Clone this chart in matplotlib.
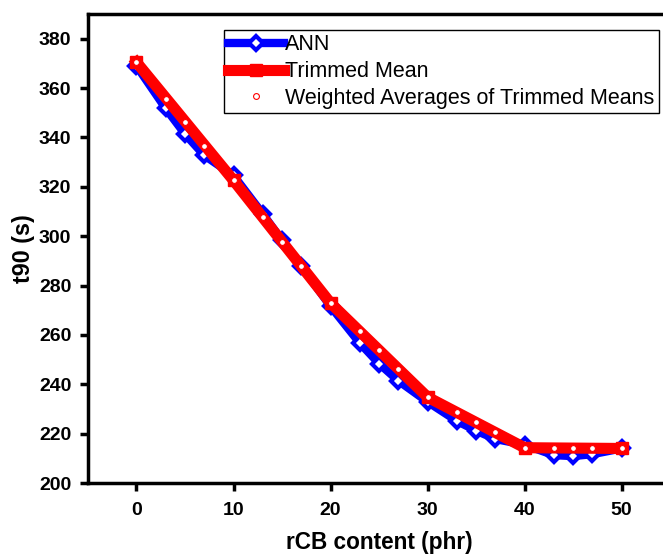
#!/usr/bin/env python3
"""t90 vs rCB content: ANN vs trimmed mean."""
import matplotlib
matplotlib.use("Agg")
import matplotlib.pyplot as plt

plt.rcParams["font.family"] = ["Liberation Sans", "DejaVu Sans"]

# ANN predictions
ann_x = [0, 3, 5, 7, 10, 13, 15, 17, 20, 23, 25, 27, 30, 33, 35, 37, 40, 43, 45, 47, 50]
ann_y = [369.0, 351.8, 341.4, 332.7, 324.6, 309.1, 298.3, 287.8, 271.6, 256.8, 248.4,
         241.4, 232.9, 225.2, 221.2, 217.8, 215.5, 211.3, 210.9, 211.7, 214.0]

# trimmed means at measured contents
tm_x = [0, 10, 20, 30, 40, 50]
tm_y = [370.5, 322.6, 272.9, 234.8, 214.3, 214.0]

# weighted averages of trimmed means
wa_x = [0, 3, 5, 7, 10, 13, 15, 17, 20, 23, 25, 27, 30, 33, 35, 37, 40, 43, 45, 47, 50]
wa_y = [370.5, 355.7, 346.4, 336.7, 322.6, 307.7, 297.8, 287.8, 272.9, 261.5, 253.8,
        246.1, 234.8, 228.6, 224.6, 220.5, 214.3, 214.3, 214.2, 214.1, 214.0]

fig = plt.figure(figsize=(6.63, 5.55), dpi=100)
ax = fig.add_axes([0.1327, 0.1297, 0.878, 0.845])

ax.plot(ann_x, ann_y, color="#0000ff", lw=6, marker="D", ms=7.5,
        mfc="white", mec="#0000ff", mew=3, label="ANN", zorder=2)
ax.plot(tm_x, tm_y, color="#ff0000", lw=8, marker="s", ms=8.5,
        mfc="#ff0000", mec="#ff0000", mew=1, label="Trimmed Mean", zorder=3)
ax.plot(wa_x, wa_y, ls="none", marker="o", ms=4.2, mfc="white",
        mec="#ff0000", mew=0.8, label="Weighted Averages of Trimmed Means", zorder=4)

ax.set_xlim(-5, 55)
ax.set_ylim(200, 390)
ax.set_xticks(range(0, 51, 10))
ax.set_yticks(range(200, 381, 20))

for s in ax.spines.values():
    s.set_linewidth(2.5)
ax.tick_params(direction="out", length=6, width=2.5, labelsize=14)
ax.tick_params(axis="x", pad=8)
ax.tick_params(axis="y", pad=6)
for lbl in ax.get_xticklabels() + ax.get_yticklabels():
    lbl.set_fontweight("bold")

ax.set_xlabel("rCB content (phr)", fontsize=16.3, fontweight="bold", labelpad=8)
ax.set_ylabel("t90 (s)", fontsize=16.8, fontweight="bold", labelpad=3)

leg = ax.legend(loc="upper left", bbox_to_anchor=(0.2337, 0.966), fontsize=15.5,
                frameon=True, fancybox=False, edgecolor="black", framealpha=1,
                handlelength=2.6, handletextpad=0.05, borderpad=0.2,
                labelspacing=0.27, borderaxespad=0)
leg.get_frame().set_linewidth(1)
handles = leg.legend_handles
handles[0].set_markersize(7)
handles[1].set_markersize(8)

fig.savefig("out.png", dpi=100)
